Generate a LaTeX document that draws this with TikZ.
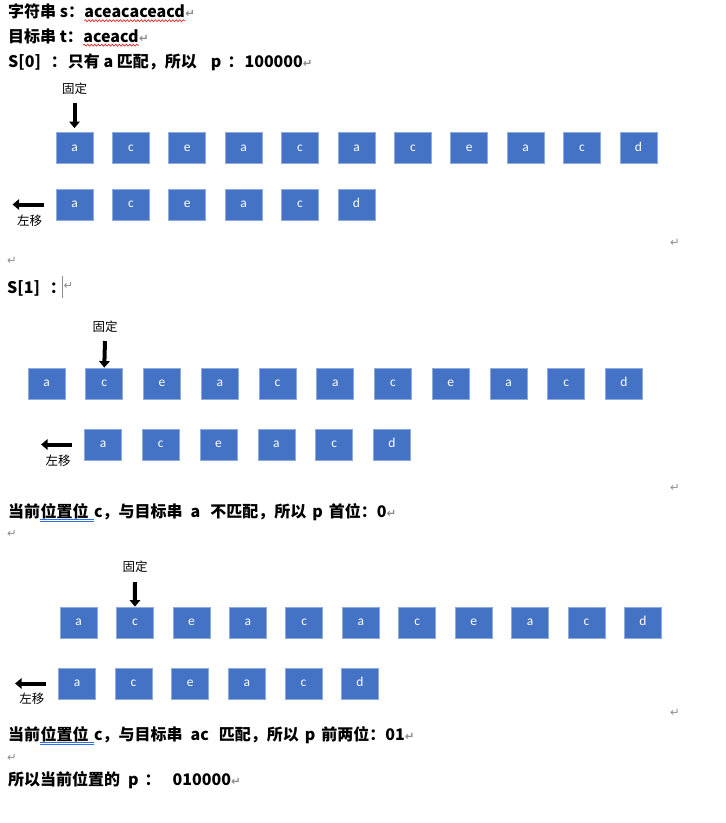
\documentclass[tikz,border=0pt]{standalone}
\usepackage{fontspec}
\setmainfont{Noto Sans CJK SC}
\newfontfamily\cellfont{Carlito}
\newfontfamily\markfont{DejaVu Sans}
\usetikzlibrary{arrows.meta,positioning,decorations.pathmorphing}
\definecolor{cellblue}{HTML}{4472C4}
\definecolor{cellline}{HTML}{8FAADC}
\definecolor{markgray}{HTML}{8C8C8C}
\definecolor{spellred}{HTML}{E02828}
\definecolor{gramblue}{HTML}{2F6FE0}
\newcommand{\retmark}{{\markfont\fontsize{11.5}{12}\selectfont\color{markgray}↵}}

\begin{document}
\begin{tikzpicture}[x=1pt,y=-1pt,
  doc/.style={font=\bfseries\fontsize{16}{19}\selectfont, inner sep=0pt, anchor=base west},
  note/.style={font=\fontsize{12.5}{15}\selectfont, inner sep=1pt},
  cell/.style={draw=cellline, line width=0.8pt, fill=cellblue, minimum width=37pt, minimum height=31pt,
    inner sep=0pt, text height=6.5pt, text depth=0pt, text=white, font=\cellfont\fontsize{13.5}{15}\selectfont},
  push/.style={line width=4pt, -{Triangle[length=6.5pt,width=10.5pt]}},
  spell/.style={spellred, line width=0.7pt, decorate, decoration={snake, amplitude=1pt, segment length=3.5pt}},
  gram/.style={gramblue, line width=0.7pt},
  ret/.style={font=\markfont\fontsize{11.5}{12}\selectfont, text=markgray, inner sep=0pt}]
\useasboundingbox (0,0) rectangle (726,823);

% header
\node[doc] (hd1) at (8,17) {字符串 s：};
\node[doc] (hd1w) at (hd1.base east) {aceacaceacd};
\node[doc] (hd1r) at (hd1w.base east) {\retmark};
\draw[spell] ([yshift=-3.7pt]hd1w.base west) -- ([yshift=-3.7pt]hd1w.base east);
\node[doc] (hd2) at (8,42) {目标串 t：};
\node[doc] (hd2w) at (hd2.base east) {aceacd};
\node[doc] (hd2r) at (hd2w.base east) {\retmark};
\draw[spell] ([yshift=-3.2pt]hd2w.base west) -- ([yshift=-3.2pt]hd2w.base east);
\node[doc] (hd3) at (8,67) {S[0]\hspace{10pt}：\hspace{1pt}只有 a 匹配，所以\hspace{14pt}p\hspace{6pt}：\hspace{1pt}100000\retmark};

% S[0]
\node[note] (fixa) at (74.5,89) {固定};
\foreach \ch [count=\i] in {a,c,e,a,c,a,c,e,a,c,d}
  \node[cell] (sa\i) at ({74.5+56.4*(\i-1)},148) {\ch};
\foreach \ch [count=\i] in {a,c,e,a,c,d}
  \node[cell] (ta\i) at ({74.5+56.4*(\i-1)},204.5) {\ch};
\draw[push, shorten >=4pt] ([yshift=-6.5pt]fixa.south) -- (sa1.north);
\draw[push] ([xshift=-12pt]ta1.west) -- ++(-31,0);
\node[note] (mva) at (29.5,221) {左移};
\node[ret] (ra1) at (675,243) {↵};
\node[ret] (ra2) at (12,261) {↵};

% S[1]
\node[doc] (hs1) at (7,293) {S[1]\hspace{10pt}：};
\draw[markgray, line width=0.6pt] (62,276) -- (62,298);
\node[ret] (hs1r) at (68.5,286) {↵};
\node[note] (fixb) at (105,327) {固定};
\foreach \ch [count=\i] in {a,c,e,a,c,a,c,e,a,c,d}
  \node[cell] (sb\i) at ({46.5+57.75*(\i-1)},383.5) {\ch};
\foreach \ch [count=\i] in {a,c,e,a,c,d}
  \node[cell] (tb\i) at ({103+57.8*(\i-1)},444.5) {\ch};
\draw[push] ([yshift=-7pt]fixb.south) -- (sb2.north);
\draw[push] ([xshift=-12pt]tb1.west) -- ++(-31,0);
\node[note] (mvb) at (58,461) {左移};
\node[ret] (rb1) at (675,488) {↵};
\node[doc] (rs1) at (8,517) {当前};
\node[doc] (rs1u) at (rs1.base east) {位置位\kern5pt};
\node[doc] (rs1e) at (rs1u.base east) {c，与目标串\hspace{8pt}a\hspace{10pt}不匹配，所以\hspace{6pt}p\hspace{6pt}首位：0\retmark};
\draw[gram] ([yshift=-2pt]rs1u.base west) -- ([yshift=-2pt]rs1u.base east);
\draw[gram] ([yshift=-4pt]rs1u.base west) -- ([yshift=-4pt]rs1u.base east);
\node[ret] (rb2) at (12,534) {↵};

% second step
\node[note] (fixc) at (135,567) {固定};
\foreach \ch [count=\i] in {a,c,e,a,c,a,c,e,a,c,d}
  \node[cell] (sc\i) at ({78.5+56.45*(\i-1)},622.5) {\ch};
\foreach \ch [count=\i] in {a,c,e,a,c,d}
  \node[cell] (tc\i) at ({77+56.6*(\i-1)},683.5) {\ch};
\draw[push] ([yshift=-8pt]fixc.south) -- (sc2.north);
\draw[push] ([xshift=-12pt]tc1.west) -- ++(-31,0);
\node[note] (mvc) at (32,699) {左移};
\node[ret] (rc1) at (675,713) {↵};
\node[doc] (rs2) at (8,740) {当前};
\node[doc] (rs2u) at (rs2.base east) {位置位\kern5pt};
\node[doc] (rs2e) at (rs2u.base east) {c，与目标串\hspace{8pt}ac\hspace{10pt}匹配，所以\hspace{6pt}p\hspace{6pt}前两位：01\retmark};
\draw[gram] ([yshift=-2pt]rs2u.base west) -- ([yshift=-2pt]rs2u.base east);
\draw[gram] ([yshift=-4pt]rs2u.base west) -- ([yshift=-4pt]rs2u.base east);
\node[ret] (rc2) at (12,758) {↵};
\node[doc] (res) at (8,785) {所以当前位置的\hspace{8pt}p\hspace{6pt}：\hspace{12pt}010000\retmark};
\end{tikzpicture}
\end{document}
